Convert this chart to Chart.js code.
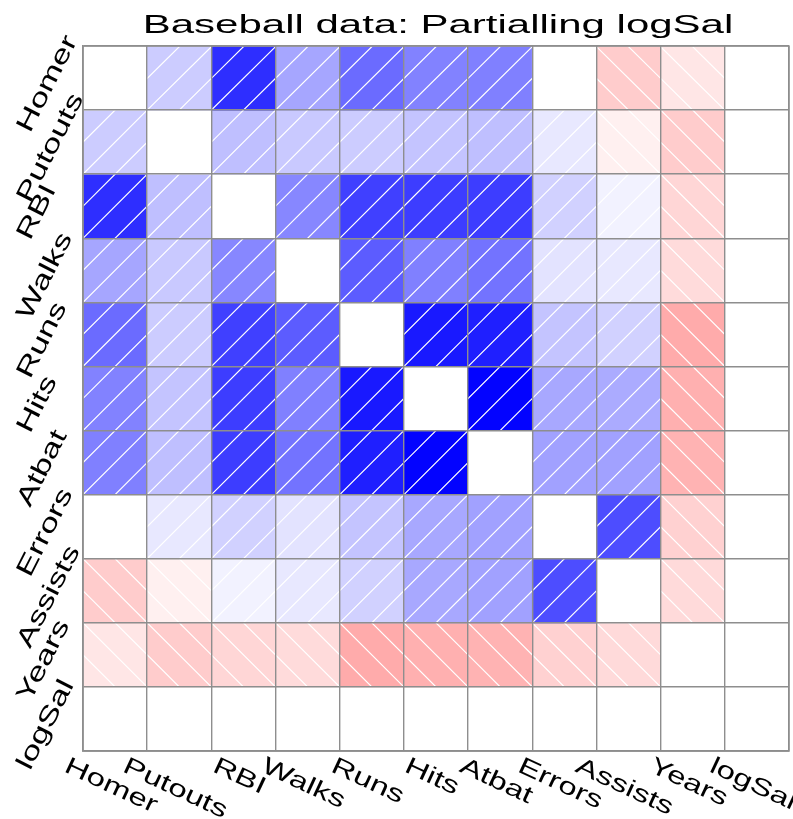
<!DOCTYPE html>
<html>
<head>
<meta charset="utf-8">
<title>Baseball data: Partialling logSal</title>
<script src="https://cdn.jsdelivr.net/npm/chart.js@4/dist/chart.umd.min.js"></script>
<style>
  html, body { margin: 0; padding: 0; background: #fff; }
  #wrap { width: 793px; height: 819px; position: relative; }
</style>
</head>
<body>
<div id="wrap"><canvas id="corrgram"></canvas></div>
<script>
// Corrgram: partial correlations with logSal held out, shaded + hatched cells
const variables = ['Homer', 'Putouts', 'RBI', 'Walks', 'Runs', 'Hits', 'Atbat', 'Errors', 'Assists', 'Years', 'logSal'];
const chartTitle = 'Baseball data: Partialling logSal';

// one row per variable, same column order as `variables` (null = diagonal)
const homer   = [null, 0.20, 0.82, 0.35, 0.58, 0.49, 0.50, 0.00, -0.20, -0.10, 0];
const putouts = [0.20, null, 0.25, 0.21, 0.20, 0.23, 0.25, 0.09, -0.06, -0.20, 0];
const rbi     = [0.82, 0.25, null, 0.47, 0.75, 0.76, 0.76, 0.18, 0.05, -0.16, 0];
const walks   = [0.35, 0.21, 0.47, null, 0.64, 0.50, 0.55, 0.11, 0.09, -0.14, 0];
const runs    = [0.58, 0.20, 0.75, 0.64, null, 0.90, 0.88, 0.23, 0.18, -0.33, 0];
const hits    = [0.49, 0.23, 0.76, 0.50, 0.90, null, 0.99, 0.34, 0.33, -0.31, 0];
const atbat   = [0.50, 0.25, 0.76, 0.55, 0.88, 0.99, null, 0.37, 0.37, -0.30, 0];
const errors  = [0.00, 0.09, 0.18, 0.11, 0.23, 0.34, 0.37, null, 0.70, -0.18, 0];
const assists = [-0.20, -0.06, 0.05, 0.09, 0.18, 0.34, 0.37, 0.70, null, -0.145, 0];
const years   = [-0.10, -0.20, -0.16, -0.14, -0.33, -0.31, -0.30, -0.18, -0.145, null, 0];
const logsal  = [0, 0, 0, 0, 0, 0, 0, 0, 0, 0, null];
const rows = [homer, putouts, rbi, walks, runs, hits, atbat, errors, assists, years, logsal];

const FONT = '"Liberation Sans", Arial, Helvetica, sans-serif';
const GRID = '#8e8e8e';

function shade(r) {
  if (r == null || r === 0) return '#ffffff';
  const c = Math.round(255 * (1 - Math.min(1, Math.abs(r))));
  return r > 0 ? `rgb(${c},${c},255)` : `rgb(255,${c},${c})`;
}

// rotated, horizontally widened text with its baseline starting at (x, y)
function wideText(ctx, text, x, y, size, angleDeg, stretch) {
  ctx.save();
  ctx.translate(x, y);
  ctx.rotate(angleDeg * Math.PI / 180);
  ctx.scale(stretch, 1);
  ctx.font = `${size}px ${FONT}`;
  ctx.textAlign = 'left';
  ctx.textBaseline = 'alphabetic';
  ctx.fillStyle = '#000';
  ctx.fillText(text, 0, 0);
  ctx.restore();
}
function textWidth(ctx, text, size) { ctx.font = `${size}px ${FONT}`; return ctx.measureText(text).width; }

// white hatching: "/" for positive, "\" for negative, half-cell spacing
const hatchPlugin = {
  id: 'hatch',
  afterDatasetsDraw(chart) {
    const ctx = chart.ctx;
    chart.data.datasets.forEach((ds, i) => {
      const meta = chart.getDatasetMeta(i);
      meta.data.forEach((bar, j) => {
        const r = rows[i][j];
        if (r == null || r === 0) return;
        const left = bar.x - bar.width / 2, w = bar.width;
        const top = Math.min(bar.y, bar.base), bottom = Math.max(bar.y, bar.base), h = bottom - top;
        const px = u => left + u * w, py = v => bottom - v * h;
        ctx.save();
        ctx.beginPath();
        ctx.rect(left, top, w, h);
        ctx.clip();
        ctx.strokeStyle = '#ffffff';
        ctx.lineWidth = 1.2;
        ctx.beginPath();
        if (r > 0) {
          [-0.5, 0, 0.5].forEach(c => { ctx.moveTo(px(c - 1), py(-1)); ctx.lineTo(px(c + 2), py(2)); });
        } else {
          [0.5, 1, 1.5].forEach(c => { ctx.moveTo(px(c + 1), py(-1)); ctx.lineTo(px(c - 2), py(2)); });
        }
        ctx.stroke();
        ctx.restore();
      });
    });
  }
};

// title, outer frame and the slanted variable names
const labelPlugin = {
  id: 'labels',
  afterDraw(chart) {
    const ctx = chart.ctx;
    const xs = chart.scales.x, ys = chart.scales.y, area = chart.chartArea;
    ctx.save();
    ctx.strokeStyle = GRID;
    ctx.lineWidth = 1.4;
    ctx.strokeRect(area.left, area.top, area.right - area.left, area.bottom - area.top);
    ctx.restore();
    // title
    ctx.save();
    ctx.translate((area.left + area.right) / 2 + 2, 33);
    ctx.scale(1.615, 1);
    ctx.font = `26px ${FONT}`;
    ctx.textAlign = 'center';
    ctx.fillStyle = '#000';
    ctx.fillText(chartTitle, 0, 0);
    ctx.restore();
    // left labels, reading upward
    const yAng = -63, ySize = 25, yStretch = 1.4;
    variables.forEach((name, i) => {
      const w = textWidth(ctx, name, ySize) * yStretch;
      const dy = w * Math.sin(-yAng * Math.PI / 180);
      const cy = ys.getPixelForValue(i + 0.5) + 9;
      wideText(ctx, name, 30, cy + dy / 2, ySize, yAng, yStretch);
    });
    // bottom labels, reading downward
    const xAng = 25, xSize = 24, xStretch = 1.38;
    variables.forEach((name, j) => {
      const w = textWidth(ctx, name, xSize) * xStretch;
      const dx = w * Math.cos(xAng * Math.PI / 180);
      const cx = xs.getPixelForValue(j) - 7;
      wideText(ctx, name, cx - dx / 2, 771, xSize, xAng, xStretch);
    });
  }
};

const datasets = rows.map((row, i) => ({
  label: variables[i],
  data: row.map(() => [i, i + 1]),
  backgroundColor: row.map(shade),
  borderWidth: 0,
  grouped: false,
  barPercentage: 1,
  categoryPercentage: 1
}));

new Chart(document.getElementById('corrgram'), {
  type: 'bar',
  data: { labels: variables, datasets },
  options: {
    responsive: true,
    maintainAspectRatio: false,
    animation: false,
    layout: { padding: { left: 83, right: 4, top: 46, bottom: 68 } },
    plugins: { legend: { display: false }, tooltip: { enabled: false }, title: { display: false } },
    scales: {
      x: {
        offset: true,
        grid: { offset: true, color: GRID, lineWidth: 1.4, drawTicks: false, z: 1 },
        border: { color: GRID, width: 1.4, z: 1 },
        ticks: { display: false }
      },
      y: {
        min: 0, max: 11, reverse: true,
        grid: { color: GRID, lineWidth: 1.4, drawTicks: false, z: 1 },
        border: { color: GRID, width: 1.4, z: 1 },
        ticks: { display: false, stepSize: 1 }
      }
    }
  },
  plugins: [hatchPlugin, labelPlugin]
});
</script>
</body>
</html>
